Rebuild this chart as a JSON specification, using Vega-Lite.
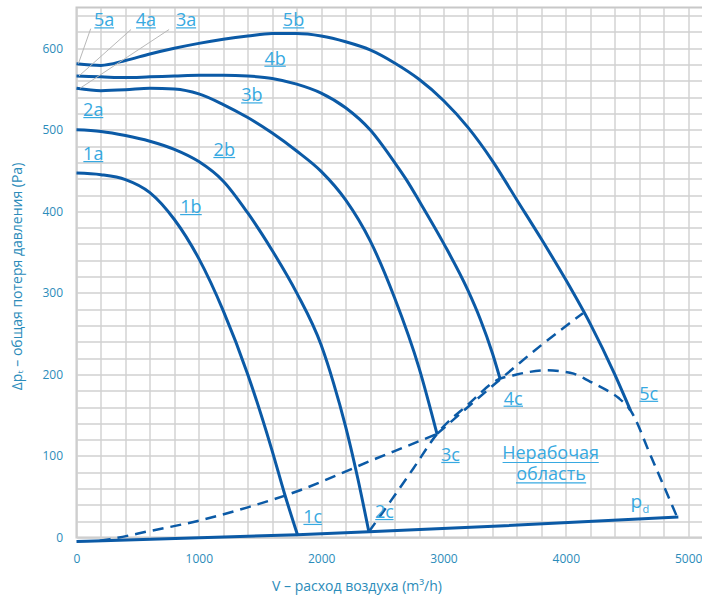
{
  "$schema": "https://vega.github.io/schema/vega-lite/v6.json",
  "width": 630,
  "height": 530,
  "autosize": {"type": "none"},
  "padding": {"left": 76.5, "top": 7.5, "right": 0, "bottom": 60},
  "background": "white",
  "config": {
    "view": {"stroke": "#c8c8c8", "strokeWidth": 2},
    "font": "Open Sans"
  },
  "datasets": {
    "curves": [
      {"s": "1", "v": 0, "p": 447}, {"s": "1", "v": 200, "p": 445}, {"s": "1", "v": 400, "p": 439}, {"s": "1", "v": 600, "p": 423},
      {"s": "1", "v": 800, "p": 390}, {"s": "1", "v": 1000, "p": 342}, {"s": "1", "v": 1200, "p": 278}, {"s": "1", "v": 1400, "p": 200},
      {"s": "1", "v": 1600, "p": 106}, {"s": "1", "v": 1700, "p": 54}, {"s": "1", "v": 1806, "p": 3.5},

      {"s": "2", "v": 0, "p": 500}, {"s": "2", "v": 200, "p": 498}, {"s": "2", "v": 400, "p": 493}, {"s": "2", "v": 600, "p": 486},
      {"s": "2", "v": 800, "p": 476}, {"s": "2", "v": 1000, "p": 461}, {"s": "2", "v": 1200, "p": 437}, {"s": "2", "v": 1400, "p": 398},
      {"s": "2", "v": 1600, "p": 352}, {"s": "2", "v": 1800, "p": 300}, {"s": "2", "v": 2000, "p": 236}, {"s": "2", "v": 2100, "p": 190},
      {"s": "2", "v": 2200, "p": 136}, {"s": "2", "v": 2300, "p": 72}, {"s": "2", "v": 2390, "p": 7},

      {"s": "3", "v": 0, "p": 551}, {"s": "3", "v": 200, "p": 548}, {"s": "3", "v": 400, "p": 549}, {"s": "3", "v": 600, "p": 551},
      {"s": "3", "v": 800, "p": 550}, {"s": "3", "v": 1000, "p": 544}, {"s": "3", "v": 1200, "p": 531}, {"s": "3", "v": 1400, "p": 515},
      {"s": "3", "v": 1600, "p": 496}, {"s": "3", "v": 1800, "p": 474}, {"s": "3", "v": 2000, "p": 449}, {"s": "3", "v": 2200, "p": 414},
      {"s": "3", "v": 2400, "p": 364}, {"s": "3", "v": 2600, "p": 294}, {"s": "3", "v": 2800, "p": 208}, {"s": "3", "v": 2947, "p": 127},

      {"s": "4", "v": 0, "p": 566}, {"s": "4", "v": 200, "p": 565}, {"s": "4", "v": 400, "p": 564}, {"s": "4", "v": 600, "p": 565},
      {"s": "4", "v": 800, "p": 566}, {"s": "4", "v": 1000, "p": 567}, {"s": "4", "v": 1200, "p": 567}, {"s": "4", "v": 1400, "p": 566},
      {"s": "4", "v": 1600, "p": 563}, {"s": "4", "v": 1800, "p": 556}, {"s": "4", "v": 2000, "p": 545}, {"s": "4", "v": 2200, "p": 527},
      {"s": "4", "v": 2400, "p": 500}, {"s": "4", "v": 2600, "p": 460}, {"s": "4", "v": 2700, "p": 438}, {"s": "4", "v": 2800, "p": 413},
      {"s": "4", "v": 3000, "p": 361}, {"s": "4", "v": 3200, "p": 303}, {"s": "4", "v": 3300, "p": 268}, {"s": "4", "v": 3400, "p": 226},
      {"s": "4", "v": 3464, "p": 194},

      {"s": "5", "v": 0, "p": 581}, {"s": "5", "v": 200, "p": 579}, {"s": "5", "v": 400, "p": 585}, {"s": "5", "v": 600, "p": 593},
      {"s": "5", "v": 800, "p": 600}, {"s": "5", "v": 1000, "p": 606}, {"s": "5", "v": 1200, "p": 611}, {"s": "5", "v": 1400, "p": 615},
      {"s": "5", "v": 1600, "p": 618}, {"s": "5", "v": 1800, "p": 618}, {"s": "5", "v": 2000, "p": 615}, {"s": "5", "v": 2200, "p": 608},
      {"s": "5", "v": 2400, "p": 598}, {"s": "5", "v": 2600, "p": 582}, {"s": "5", "v": 2800, "p": 562}, {"s": "5", "v": 3000, "p": 536},
      {"s": "5", "v": 3200, "p": 503}, {"s": "5", "v": 3400, "p": 462}, {"s": "5", "v": 3600, "p": 414}, {"s": "5", "v": 3800, "p": 366},
      {"s": "5", "v": 4000, "p": 316}, {"s": "5", "v": 4200, "p": 262}, {"s": "5", "v": 4400, "p": 200}, {"s": "5", "v": 4528, "p": 156},

      {"s": "pd", "v": 0, "p": -5}, {"s": "pd", "v": 1806, "p": 3.5}, {"s": "pd", "v": 2390, "p": 7}, {"s": "pd", "v": 3500, "p": 14.5}, {"s": "pd", "v": 4920, "p": 25}
    ],
    "dashed": [
      {"s": "sys", "v": 190, "p": -4}, {"s": "sys", "v": 274, "p": -2}, {"s": "sys", "v": 601, "p": 8}, {"s": "sys", "v": 1010, "p": 21},
      {"s": "sys", "v": 1400, "p": 37}, {"s": "sys", "v": 1828, "p": 58}, {"s": "sys", "v": 2155, "p": 78}, {"s": "sys", "v": 2387, "p": 93},
      {"s": "sys", "v": 2700, "p": 112}, {"s": "sys", "v": 2947, "p": 127},

      {"s": "ext", "v": 2947, "p": 127}, {"s": "ext", "v": 3200, "p": 160}, {"s": "ext", "v": 3464, "p": 194}, {"s": "ext", "v": 3800, "p": 236}, {"s": "ext", "v": 4140, "p": 275},

      {"s": "lim", "v": 2390, "p": 7}, {"s": "lim", "v": 2565, "p": 44}, {"s": "lim", "v": 2755, "p": 85}, {"s": "lim", "v": 2947, "p": 127},
      {"s": "lim", "v": 3200, "p": 163}, {"s": "lim", "v": 3464, "p": 195}, {"s": "lim", "v": 3574, "p": 199}, {"s": "lim", "v": 3700, "p": 203},
      {"s": "lim", "v": 3846, "p": 205}, {"s": "lim", "v": 3950, "p": 204}, {"s": "lim", "v": 4064, "p": 201}, {"s": "lim", "v": 4201, "p": 191},
      {"s": "lim", "v": 4330, "p": 181}, {"s": "lim", "v": 4432, "p": 171}, {"s": "lim", "v": 4528, "p": 156}, {"s": "lim", "v": 4700, "p": 98},
      {"s": "lim", "v": 4910, "p": 25}
    ],
    "labels": [
      {"t": "5a", "v": 226, "p": 627},
      {"t": "4a", "v": 567, "p": 627},
      {"t": "3a", "v": 896, "p": 627},
      {"t": "5b", "v": 1774, "p": 627},
      {"t": "4b", "v": 1624, "p": 580},
      {"t": "3b", "v": 1433, "p": 535},
      {"t": "2a", "v": 137, "p": 517},
      {"t": "2b", "v": 1208, "p": 468},
      {"t": "1a", "v": 137, "p": 463},
      {"t": "1b", "v": 935, "p": 398},
      {"t": "1c", "v": 1930, "p": 18},
      {"t": "2c", "v": 2517, "p": 24},
      {"t": "3c", "v": 3057, "p": 94},
      {"t": "4c", "v": 3570, "p": 163},
      {"t": "5c", "v": 4678, "p": 169},
      {"t": "Нерабочая", "v": 3876, "p": 96},
      {"t": "область", "v": 3879, "p": 70.5}
    ],
    "underlines": [
      {"v": 146, "v2": 307, "p": 625}, {"v": 487, "v2": 648, "p": 625}, {"v": 814, "v2": 978, "p": 625},
      {"v": 1687, "v2": 1861, "p": 625}, {"v": 1536, "v2": 1711, "p": 578}, {"v": 1346, "v2": 1520, "p": 533},
      {"v": 56, "v2": 219, "p": 515}, {"v": 1119, "v2": 1297, "p": 466}, {"v": 56, "v2": 219, "p": 461},
      {"v": 847, "v2": 1024, "p": 396}, {"v": 1855, "v2": 2006, "p": 16}, {"v": 2442, "v2": 2592, "p": 22},
      {"v": 2982, "v2": 3132, "p": 92}, {"v": 3491, "v2": 3650, "p": 161}, {"v": 4602, "v2": 4755, "p": 167},
      {"v": 3483, "v2": 4269, "p": 92}, {"v": 3593, "v2": 4166, "p": 67}
    ],
    "leaders": [
      {"v": 116, "p": 624, "v2": 15, "p2": 581},
      {"v": 446, "p": 623, "v2": 20, "p2": 566},
      {"v": 757, "p": 623, "v2": 29, "p2": 551}
    ],
    "pdMain": [{"t": "p", "v": 4576, "p": 36}],
    "pdSub": [{"t": "d", "v": 4655, "p": 30}]
  },
  "encoding": {
    "x": {
      "field": "v", "type": "quantitative",
      "scale": {"domain": [0, 5150], "nice": false, "zero": false},
      "axis": {
        "values": [0, 200, 400, 600, 800, 1000, 1200, 1400, 1600, 1800, 2000, 2200, 2400, 2600, 2800, 3000, 3200, 3400, 3600, 3800, 4000, 4200, 4400, 4600, 4800, 5000],
        "labelExpr": "datum.value % 1000 === 0 ? datum.label : ''",
        "format": "d",
        "grid": true, "gridColor": "#d0d0d0", "gridWidth": 1.4,
        "domain": false, "ticks": false, "tickSize": 0,
        "labelPadding": 20.5, "labelBaseline": "middle", "labelFontSize": 12, "labelColor": "#2b8cba",
        "labelOverlap": false, "labelFlush": false,
        "title": "V – расход воздуха (m³/h)",
        "titleFontSize": 14, "titleFontWeight": "normal", "titleColor": "#2b8cba",
        "titleX": 280, "titleY": 52.5, "titleBaseline": "alphabetic", "titleAlign": "center"
      }
    },
    "y": {
      "field": "p", "type": "quantitative",
      "scale": {"domain": [0, 650], "nice": false, "zero": false},
      "axis": {
        "values": [0, 20, 40, 60, 80, 100, 120, 140, 160, 180, 200, 220, 240, 260, 280, 300, 320, 340, 360, 380, 400, 420, 440, 460, 480, 500, 520, 540, 560, 580, 600, 620, 640],
        "labelExpr": "datum.value % 100 === 0 ? datum.label : ''",
        "format": "d",
        "grid": true, "gridColor": "#d0d0d0", "gridWidth": 1.4,
        "domain": false, "ticks": false, "tickSize": 0,
        "labelPadding": 14, "labelBaseline": "middle", "labelFontSize": 12, "labelColor": "#2b8cba",
        "labelOverlap": false, "labelFlush": false,
        "title": "Δpₜ – общая потеря давления (Pa)",
        "titleFontSize": 14, "titleFontWeight": "normal", "titleColor": "#2b8cba",
        "titleAngle": -90, "titleX": -55, "titleY": 268.5, "titleBaseline": "alphabetic", "titleAlign": "center"
      }
    }
  },
  "layer": [
    {
      "data": {"name": "curves"},
      "mark": {"type": "line", "interpolate": "monotone", "color": "#0b5aa6", "strokeWidth": 3},
      "encoding": {"detail": {"field": "s"}}
    },
    {
      "data": {"name": "dashed"},
      "mark": {"type": "line", "interpolate": "monotone", "color": "#0b5aa6", "strokeWidth": 2.5, "strokeDash": [11, 7]},
      "encoding": {"detail": {"field": "s"}}
    },
    {
      "data": {"name": "leaders"},
      "mark": {"type": "rule", "color": "#b8b8b8", "strokeWidth": 1},
      "encoding": {"x2": {"field": "v2"}, "y2": {"field": "p2"}}
    },
    {
      "data": {"name": "underlines"},
      "mark": {"type": "rule", "color": "#37a9e1", "strokeWidth": 1.2},
      "encoding": {"x2": {"field": "v2"}}
    },
    {
      "data": {"name": "labels"},
      "mark": {"type": "text", "color": "#37a9e1", "fontSize": 18, "align": "center", "baseline": "alphabetic", "font": "Open Sans"},
      "encoding": {"text": {"field": "t"}}
    },
    {
      "data": {"name": "pdMain"},
      "mark": {"type": "text", "color": "#37a9e1", "fontSize": 19, "align": "center", "baseline": "alphabetic", "font": "Open Sans"},
      "encoding": {"text": {"field": "t"}}
    },
    {
      "data": {"name": "pdSub"},
      "mark": {"type": "text", "color": "#37a9e1", "fontSize": 11, "align": "center", "baseline": "alphabetic", "font": "Open Sans"},
      "encoding": {"text": {"field": "t"}}
    }
  ]
}
